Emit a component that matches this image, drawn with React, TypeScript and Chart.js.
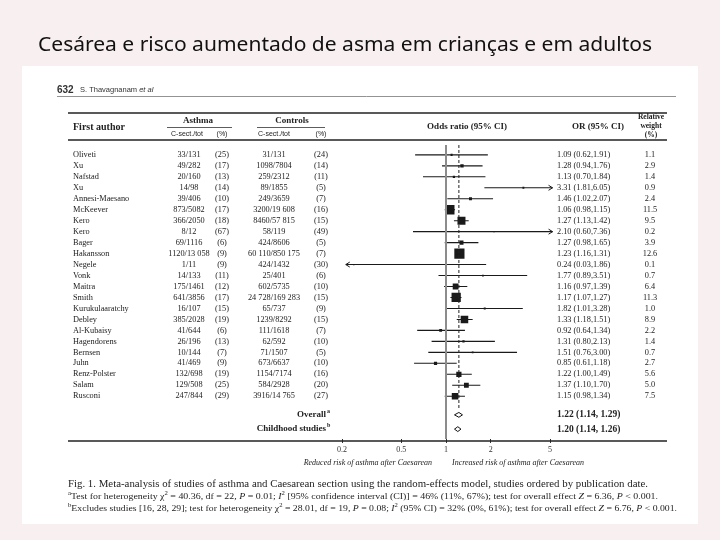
import React, { useEffect, useRef } from "react";
import { Chart, registerables } from "chart.js";

Chart.register(...registerables);

const TITLE = "Cesárea e risco aumentado de asma em crianças e em adultos";

const authors = ["Oliveti", "Xu", "Nafstad", "Xu", "Annesi-Maesano", "McKeever", "Kero", "Kero", "Bager", "Hakansson", "Negele", "Vonk", "Maitra", "Smith", "Kurukulaaratchy", "Debley", "Al-Kubaisy", "Hagendorens", "Bernsen", "Juhn", "Renz-Polster", "Salam", "Rusconi"];
const asthmaCS = ["33/131", "49/282", "20/160", "14/98", "39/406", "873/5082", "366/2050", "8/12", "69/1116", "1120/13 058", "1/11", "14/133", "175/1461", "641/3856", "16/107", "385/2028", "41/644", "26/196", "10/144", "41/469", "132/698", "129/508", "247/844"];
const asthmaPct = [25, 17, 13, 14, 10, 17, 18, 67, 6, 9, 9, 11, 12, 17, 15, 19, 6, 13, 7, 9, 19, 25, 29];
const controlsCS = ["31/131", "1098/7804", "259/2312", "89/1855", "249/3659", "3200/19 608", "8460/57 815", "58/119", "424/8606", "60 110/850 175", "424/1432", "25/401", "602/5735", "24 728/169 283", "65/737", "1239/8292", "111/1618", "62/592", "71/1507", "673/6637", "1154/7174", "584/2928", "3916/14 765"];
const controlsPct = [24, 14, 11, 5, 7, 16, 15, 49, 5, 7, 30, 6, 10, 15, 9, 15, 7, 10, 5, 10, 16, 20, 27];
const oddsRatio = [1.09, 1.28, 1.13, 3.31, 1.46, 1.06, 1.27, 2.10, 1.27, 1.23, 0.24, 1.77, 1.16, 1.17, 1.82, 1.33, 0.92, 1.31, 1.51, 0.85, 1.22, 1.37, 1.15];
const ciLow = [0.62, 0.94, 0.70, 1.81, 1.02, 0.98, 1.13, 0.60, 0.98, 1.16, 0.03, 0.89, 0.97, 1.07, 1.01, 1.18, 0.64, 0.80, 0.76, 0.61, 1.00, 1.10, 0.98];
const ciHigh = [1.91, 1.76, 1.84, 6.05, 2.07, 1.15, 1.42, 7.36, 1.65, 1.31, 1.86, 3.51, 1.39, 1.27, 3.28, 1.51, 1.34, 2.13, 3.00, 1.18, 1.49, 1.70, 1.34];
const weights = [1.1, 2.9, 1.4, 0.9, 2.4, 11.5, 9.5, 0.2, 3.9, 12.6, 0.1, 0.7, 6.4, 11.3, 1.0, 8.9, 2.2, 1.4, 0.7, 2.7, 5.6, 5.0, 7.5];

const summaryLabels = ["Overall", "Childhood studies"];
const summarySup = ["a", "b"];
const summaryOR = [1.22, 1.20];
const summaryLow = [1.14, 1.14];
const summaryHigh = [1.29, 1.26];
const summaryRows = [23.7, 25.0];

const xTicks = [0.2, 0.5, 1, 2, 5];
const X_MIN = 0.19;
const X_MAX = 5.5;
const CLIP_LO = 0.212;
const CLIP_HI = 5.2;
const Y_MIN = -0.9;
const Y_MAX = 25.9;

const SERIF = '"Liberation Serif", "Times New Roman", serif';
const SANS = '"Liberation Sans", Arial, sans-serif';

const fmt = (v: number) => v.toFixed(2);

type Run = { t: string; it?: boolean; b?: boolean; sup?: boolean };

function drawRuns(ctx: CanvasRenderingContext2D, runs: Run[], x: number, y: number, size: number, family: string, target?: number) {
  const fontOf = (r: Run) => `${r.it ? "italic " : ""}${r.b ? "bold " : ""}${r.sup ? size * 0.68 : size}px ${family}`;
  let total = 0;
  const widths = runs.map((r) => {
    ctx.font = fontOf(r);
    const w = ctx.measureText(r.t).width;
    total += w;
    return w;
  });
  const s = target ? target / total : 1;
  ctx.save();
  ctx.translate(x, y);
  ctx.scale(s, 1);
  let cx = 0;
  runs.forEach((r, i) => {
    ctx.font = fontOf(r);
    ctx.fillText(r.t, cx, r.sup ? -size * 0.38 : 0);
    cx += widths[i];
  });
  ctx.restore();
}

function hline(ctx: CanvasRenderingContext2D, x1: number, x2: number, y: number, color: string, lw: number) {
  ctx.save();
  ctx.strokeStyle = color;
  ctx.lineWidth = lw;
  ctx.beginPath();
  ctx.moveTo(x1, y);
  ctx.lineTo(x2, y);
  ctx.stroke();
  ctx.restore();
}

const pagePlugin = {
  id: "page",
  beforeDraw(chart: any) {
    const ctx = chart.ctx as CanvasRenderingContext2D;
    ctx.save();
    ctx.fillStyle = "#f8eff0";
    ctx.fillRect(0, 0, chart.width, chart.height);
    ctx.fillStyle = "#ffffff";
    ctx.fillRect(22, 66, 676, 458);
    ctx.restore();
  },
  afterDatasetsDraw(chart: any) {
    const ctx = chart.ctx as CanvasRenderingContext2D;
    const xs = chart.scales.x;
    const ys = chart.scales.y;
    ctx.save();
    ctx.strokeStyle = "#1a1a1a";
    ctx.lineWidth = 1;
    oddsRatio.forEach((_, i) => {
      const y = ys.getPixelForValue(i);
      if (ciLow[i] < CLIP_LO) {
        const x = xs.getPixelForValue(CLIP_LO);
        ctx.beginPath();
        ctx.moveTo(x + 4, y - 2.5);
        ctx.lineTo(x, y);
        ctx.lineTo(x + 4, y + 2.5);
        ctx.stroke();
      }
      if (ciHigh[i] > CLIP_HI) {
        const x = xs.getPixelForValue(CLIP_HI);
        ctx.beginPath();
        ctx.moveTo(x - 4, y - 2.5);
        ctx.lineTo(x, y);
        ctx.lineTo(x - 4, y + 2.5);
        ctx.stroke();
      }
    });
    ctx.restore();
  },
  afterDraw(chart: any) {
    const ctx = chart.ctx as CanvasRenderingContext2D;
    const ys = chart.scales.y;
    ctx.save();
    ctx.textBaseline = "middle";
    // Title
    ctx.fillStyle = "#111";
    drawRuns(ctx, [{ t: TITLE }], 38, 46, 19, '"Noto Sans", sans-serif', 614);

    // running head
    ctx.fillStyle = "#333";
    drawRuns(ctx, [{ t: "632", b: true }], 57, 90, 10, SANS);
    drawRuns(ctx, [{ t: "S. Thavagnanam " }, { t: "et al", it: true }], 80, 90, 7.5, SANS);
    hline(ctx, 57, 676, 96.5, "#777", 0.8);

    // table rules
    hline(ctx, 68, 667, 113, "#222", 1.3);
    hline(ctx, 68, 667, 140, "#222", 1.3);
    hline(ctx, 167, 232, 127.5, "#333", 0.8);
    hline(ctx, 257, 325, 127.5, "#333", 0.8);
    hline(ctx, 68, 667, 441, "#222", 1.3);

    // header
    ctx.fillStyle = "#222";
    ctx.textAlign = "left";
    ctx.font = `bold 10px ${SERIF}`;
    ctx.fillText("First author", 73, 127);
    ctx.textAlign = "center";
    ctx.font = `bold 9px ${SERIF}`;
    ctx.fillText("Asthma", 198, 121);
    ctx.fillText("Controls", 292, 121);
    ctx.font = `7px ${SANS}`;
    ctx.fillText("C-sect./tot", 187, 134);
    ctx.fillText("(%)", 222, 134);
    ctx.fillText("C-sect./tot", 274, 134);
    ctx.fillText("(%)", 321, 134);
    ctx.font = `bold 9px ${SERIF}`;
    ctx.fillText("Odds ratio (95% CI)", 467, 127);
    ctx.fillText("OR (95% CI)", 598, 127);
    ctx.font = `bold 7.5px ${SERIF}`;
    ctx.fillText("Relative", 651, 117);
    ctx.fillText("weight", 651, 126);
    ctx.fillText("(%)", 651, 135);

    // rows
    ctx.font = `8.3px ${SERIF}`;
    authors.forEach((a, i) => {
      const y = ys.getPixelForValue(i);
      ctx.textAlign = "left";
      ctx.fillText(a, 73, y);
      ctx.textAlign = "center";
      ctx.fillText(asthmaCS[i], 189, y);
      ctx.fillText(`(${asthmaPct[i]})`, 222, y);
      ctx.fillText(controlsCS[i], 274, y);
      ctx.fillText(`(${controlsPct[i]})`, 321, y);
      ctx.textAlign = "left";
      ctx.fillText(`${fmt(oddsRatio[i])} (${fmt(ciLow[i])},${fmt(ciHigh[i])})`, 557, y);
      ctx.textAlign = "center";
      ctx.fillText(weights[i].toFixed(1), 650, y);
    });

    // summary rows
    summaryLabels.forEach((lab, k) => {
      const y = ys.getPixelForValue(summaryRows[k]);
      ctx.textAlign = "right";
      ctx.font = `bold 9px ${SERIF}`;
      ctx.fillText(lab, 326, y);
      ctx.textAlign = "left";
      ctx.font = `bold 6px ${SERIF}`;
      ctx.fillText(summarySup[k], 327, y - 3.5);
      ctx.font = `bold 9.5px ${SERIF}`;
      ctx.fillText(`${fmt(summaryOR[k])} (${fmt(summaryLow[k])}, ${fmt(summaryHigh[k])})`, 557, y);
    });

    // axis captions
    ctx.font = `italic 8px ${SERIF}`;
    ctx.textAlign = "right";
    ctx.fillText("Reduced risk of asthma after Caesarean", 432, 463);
    ctx.textAlign = "left";
    ctx.fillText("Increased risk of asthma after Caesarean", 452, 463);

    // figure caption
    ctx.fillStyle = "#222";
    drawRuns(ctx, [{ t: "Fig. 1. Meta-analysis of studies of asthma and Caesarean section using the random-effects model, studies ordered by publication date." }], 68, 484, 9.5, SERIF, 580);
    drawRuns(ctx, [
      { t: "a", sup: true }, { t: "Test for heterogeneity χ" }, { t: "2", sup: true }, { t: " = 40.36, df = 22, " }, { t: "P", it: true }, { t: " = 0.01; " },
      { t: "I", it: true }, { t: "2", sup: true }, { t: " [95% confidence interval (CI)] = 46% (11%, 67%); test for overall effect " }, { t: "Z", it: true }, { t: " = 6.36, " }, { t: "P", it: true }, { t: " < 0.001." },
    ], 68, 497, 9, SERIF, 590);
    drawRuns(ctx, [
      { t: "b", sup: true }, { t: "Excludes studies [16, 28, 29]; test for heterogeneity χ" }, { t: "2", sup: true }, { t: " = 28.01, df = 19, " }, { t: "P", it: true }, { t: " = 0.08; " },
      { t: "I", it: true }, { t: "2", sup: true }, { t: " (95% CI) = 32% (0%, 61%); test for overall effect " }, { t: "Z", it: true }, { t: " = 6.76, " }, { t: "P", it: true }, { t: " < 0.001." },
    ], 68, 509, 9, SERIF, 609);
    ctx.restore();
  },
};

export default function App() {
  const ref = useRef<HTMLCanvasElement | null>(null);
  useEffect(() => {
    document.body.style.margin = "0";
    const canvas = ref.current!;
    const datasets: any[] = [];
    datasets.push({
      data: [{ x: 1, y: Y_MIN }, { x: 1, y: Y_MAX }],
      showLine: true, borderColor: "#8c8c8c", borderWidth: 2, pointRadius: 0,
    });
    datasets.push({
      data: [{ x: summaryOR[0], y: Y_MIN }, { x: summaryOR[0], y: 23.1 }],
      showLine: true, borderColor: "#222", borderWidth: 1, borderDash: [3, 2], pointRadius: 0,
    });
    oddsRatio.forEach((_, i) => {
      datasets.push({
        data: [{ x: Math.max(ciLow[i], CLIP_LO), y: i }, { x: Math.min(ciHigh[i], CLIP_HI), y: i }],
        showLine: true, borderColor: "#1a1a1a", borderWidth: 1.1, pointRadius: 0,
      });
    });
    datasets.push({
      data: oddsRatio.map((v, i) => ({ x: v, y: i })),
      pointStyle: "rect",
      pointRadius: weights.map((w) => 0.5 * w + 0.9),
      backgroundColor: "#1a1a1a", borderColor: "#1a1a1a", borderWidth: 0,
    });
    summaryOR.forEach((v, k) => {
      const y = summaryRows[k];
      datasets.push({
        data: [
          { x: summaryLow[k], y }, { x: v, y: y - 0.22 }, { x: summaryHigh[k], y }, { x: v, y: y + 0.22 }, { x: summaryLow[k], y },
        ],
        showLine: true, borderColor: "#111", borderWidth: 1, pointRadius: 0, tension: 0,
      });
    });

    const chart = new Chart(canvas, {
      type: "scatter",
      data: { datasets },
      options: {
        animation: false,
        responsive: false,
        devicePixelRatio: 1,
        layout: { padding: { left: 338.7, right: 163.8, top: 145, bottom: 83.4 } },
        plugins: { legend: { display: false }, tooltip: { enabled: false }, title: { display: false } },
        scales: {
          x: {
            type: "logarithmic",
            min: X_MIN,
            max: X_MAX,
            afterBuildTicks: (scale: any) => {
              scale.ticks = xTicks.map((v) => ({ value: v }));
            },
            ticks: {
              autoSkip: false, maxRotation: 0, padding: 2, color: "#333",
              font: { family: SERIF, size: 8 },
              callback: (v: any) => String(v),
            },
            grid: { display: true, drawOnChartArea: false, drawTicks: true, tickLength: 4, color: "#333" },
            border: { display: false },
          },
          y: { type: "linear", min: Y_MIN, max: Y_MAX, reverse: true, display: false },
        },
      },
      plugins: [pagePlugin],
    } as any);
    return () => chart.destroy();
  }, []);
  return <canvas ref={ref} width={720} height={540} style={{ display: "block", width: 720, height: 540 }} />;
}
